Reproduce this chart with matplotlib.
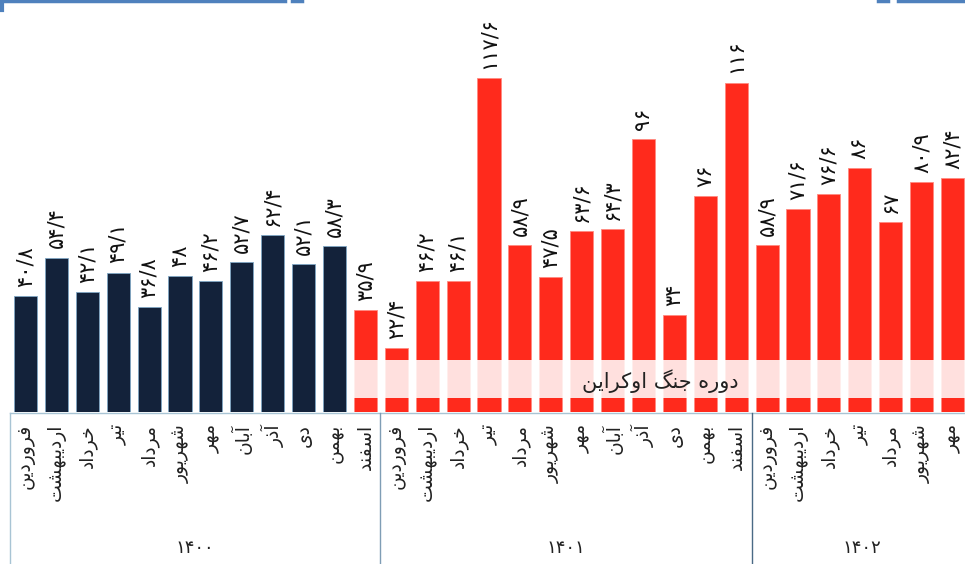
import matplotlib
matplotlib.use('Agg')
import matplotlib.pyplot as plt
from matplotlib.lines import Line2D
from matplotlib.patches import Rectangle

months = ['فروردین', 'اردیبهشت', 'خرداد', 'تیر', 'مرداد', 'شهریور',
          'مهر', 'آبان', 'آذر', 'دی', 'بهمن', 'اسفند']
v1400 = [40.8, 54.4, 42.1, 49.1, 36.8, 48, 46.2, 52.7, 62.4, 52.1, 58.3, 35.9]
v1401 = [22.4, 46.2, 46.1, 117.6, 58.9, 47.5, 63.6, 64.3, 96, 34, 76, 116]
v1402 = [58.9, 71.6, 76.6, 86, 67, 80.9, 82.4]
years = ['۱۴۰۰', '۱۴۰۱', '۱۴۰۲']
band_text = 'دوره جنگ اوکراین'

values = v1400 + v1401 + v1402
labels = months + months + months[:len(v1402)]
war_start = 11  # اسفند ۱۴۰۰

# --- tiny persian shaper (matplotlib has no arabic shaping) ---
forms = {
    'ا': ('\uFE8D', '\uFE8E', None, None), 'آ': ('\uFE81', '\uFE82', None, None),
    'ب': ('\uFE8F', '\uFE90', '\uFE91', '\uFE92'), 'ت': ('\uFE95', '\uFE96', '\uFE97', '\uFE98'),
    'ج': ('\uFE9D', '\uFE9E', '\uFE9F', '\uFEA0'), 'خ': ('\uFEA5', '\uFEA6', '\uFEA7', '\uFEA8'),
    'د': ('\uFEA9', '\uFEAA', None, None), 'ذ': ('\uFEAB', '\uFEAC', None, None),
    'ر': ('\uFEAD', '\uFEAE', None, None), 'ز': ('\uFEAF', '\uFEB0', None, None),
    'س': ('\uFEB1', '\uFEB2', '\uFEB3', '\uFEB4'), 'ش': ('\uFEB5', '\uFEB6', '\uFEB7', '\uFEB8'),
    'ف': ('\uFED1', '\uFED2', '\uFED3', '\uFED4'), 'ل': ('\uFEDD', '\uFEDE', '\uFEDF', '\uFEE0'),
    'م': ('\uFEE1', '\uFEE2', '\uFEE3', '\uFEE4'), 'ن': ('\uFEE5', '\uFEE6', '\uFEE7', '\uFEE8'),
    'ه': ('\uFEE9', '\uFEEA', '\uFEEB', '\uFEEC'), 'و': ('\uFEED', '\uFEEE', None, None),
    'ی': ('\uFBFC', '\uFBFD', '\uFBFE', '\uFBFF'), 'ک': ('\uFB8E', '\uFB8F', '\uFB90', '\uFB91'),
    'گ': ('\uFB92', '\uFB93', '\uFB94', '\uFB95'),
}


def shape(s):
    out = []
    for i, c in enumerate(s):
        if c not in forms:
            out.append(c)
            continue
        p = s[i - 1] if i > 0 else ''
        n = s[i + 1] if i + 1 < len(s) else ''
        join_prev = p in forms and forms[p][2] is not None
        join_next = n in forms and forms[c][2] is not None
        f = forms[c]
        if join_prev and join_next:
            out.append(f[3])
        elif join_prev:
            out.append(f[1])
        elif join_next:
            out.append(f[2])
        else:
            out.append(f[0])
    return ''.join(out)[::-1]


def fa_num(v):
    s = ('%g' % v).replace('.', '/')
    return s.translate(str.maketrans('0123456789', '۰۱۲۳۴۵۶۷۸۹'))


plt.rcParams['font.family'] = ['DejaVu Sans']

W, H = 965, 564
fig = plt.figure(figsize=(W / 100, H / 100), dpi=100)

base = 412      # bar baseline, px from top
pxu = 2.84      # px per unit
x0, dx = 25.5, 30.9

ax = fig.add_axes([0, (H - base) / H, 1, base / H])
ax.set_xlim(-x0 / dx, (W - x0) / dx)
ax.set_ylim(0, base / pxu)
ax.axis('off')

navy = '#13223a'
red = '#ff2a1c'
colors = [navy if i < war_start else red for i in range(len(values))]
xs = range(len(values))
ax.bar(xs, values, width=0.75, color=colors, edgecolor=[
       '#7fa6c4' if c == navy else '#ff8a80' for c in colors], linewidth=0.6)

for x, v in zip(xs, values):
    ax.text(x, v + 3.2, fa_num(v), rotation=90, ha='center', va='bottom',
            fontsize=15, color='#111111')

# war band
ax.add_patch(Rectangle((war_start - 0.375, 4.9), 40, 13.4, color='white',
                       alpha=0.86, lw=0, zorder=3))
ax.text((660 - x0) / dx, (base - 381) / pxu, shape(band_text), ha='center',
        va='center', fontsize=15, color='#222222', zorder=4)

# month labels
for x, m in zip(xs, labels):
    ax.text(x, -(424 - base) / pxu, shape(m), rotation=90, ha='center', va='top',
            fontsize=13.5, color='#222222', clip_on=False)

# group boxes
fy = lambda p: 1 - p / H
fig.add_artist(Line2D([10 / W, 1], [fy(413), fy(413)], color='#a8c4d4', lw=1))
for xp, c in [(10, '#a8c4d4'), (380, '#7f9db5'), (752, '#4a6a85')]:
    fig.add_artist(Line2D([xp / W, xp / W], [fy(413), 0], color=c, lw=1))
for xc, y in zip([195, 566, 862], years):
    fig.text(xc / W, fy(548), y, ha='center', va='center', fontsize=13, color='#222222')

# blue frame bits at the top
blue = '#4f81bd'
for a, b in [(0, 285), (292, 302), (878, 888), (898, 965)]:
    fig.add_artist(Line2D([a / W, b / W], [fy(1), fy(1)], color=blue, lw=2.5))
fig.add_artist(Line2D([1.5 / W, 1.5 / W], [fy(0), fy(10)], color=blue, lw=3))

fig.savefig('out.png', dpi=100)
